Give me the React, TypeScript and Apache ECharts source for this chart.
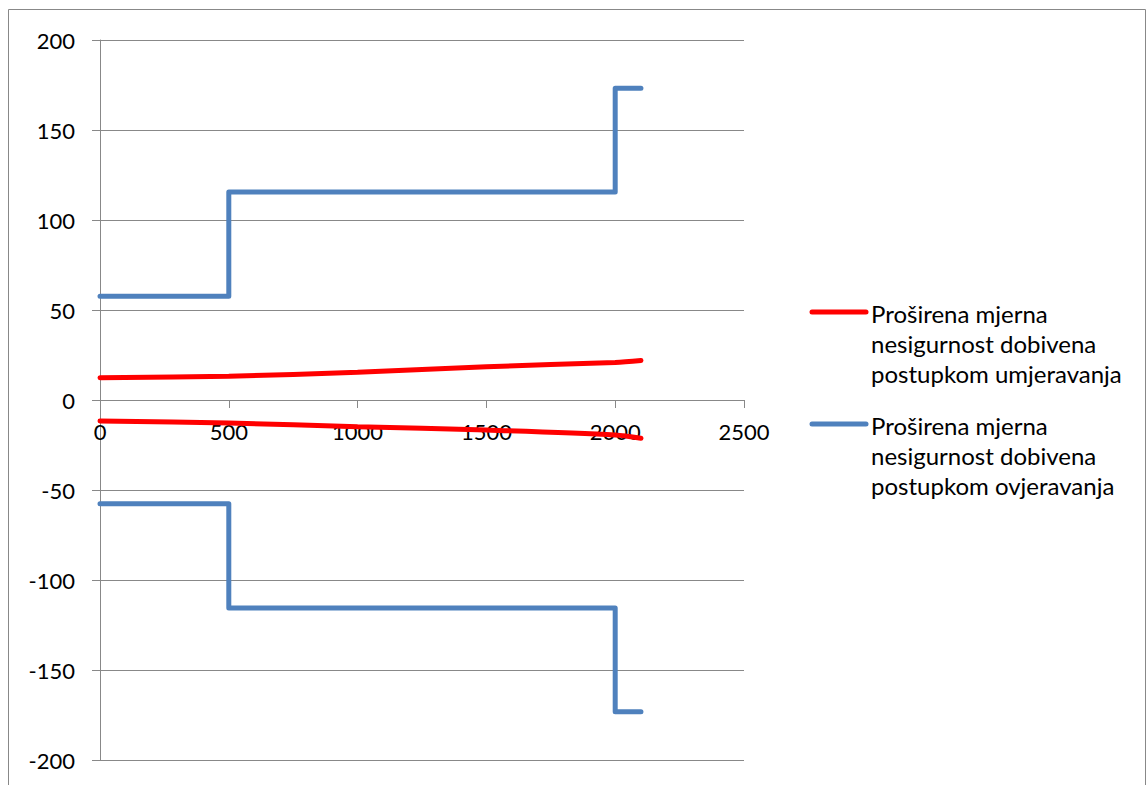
import React, { useEffect, useRef } from "react";
import * as echarts from "echarts";

const xTicks = [0, 500, 1000, 1500, 2000, 2500];
const yTicks = [-200, -150, -100, -50, 0, 50, 100, 150, 200];

const redX = [0, 500, 1000, 1500, 2000, 2100];
const redUpper = [12.4, 13.2, 15.4, 18.5, 20.9, 22.0];
const redLower = [-11.7, -12.8, -14.8, -16.7, -19.4, -21.3];

const blueX = [0, 500, 2000, 2100];
const blueUpper = [57.7, 115.5, 173.2, 173.2];
const blueLower = [-57.7, -115.5, -173.2, -173.2];

const seriesNames = [
  "Proširena mjerna\nnesigurnost dobivena\npostupkom umjeravanja",
  "Proširena mjerna\nnesigurnost dobivena\npostupkom ovjeravanja",
];
const colors = ["#FF0000", "#4F81BD"];

const FONT = "Lato";
const GRAY = "#888888";
const GRID_H = 720;

const zip = (xs: number[], ys: number[]) => xs.map((x, i) => [x, ys[i]]);

export default function App() {
  const ref = useRef<HTMLDivElement>(null);
  useEffect(() => {
    if (!ref.current) return;
    const chart = echarts.init(ref.current, null, { renderer: "svg" });
    const legendItem = (i: number, top: number) => ({
      type: "group",
      silent: true,
      children: [
        {
          type: "line",
          shape: { x1: 804, y1: top + 14, x2: 858, y2: top + 14 },
          style: { stroke: colors[i], lineWidth: 5, lineCap: "round" },
        },
        {
          type: "text",
          x: 863,
          y: top,
          style: {
            text: seriesNames[i],
            fontSize: 24,
            fontFamily: FONT,
            fill: "#000",
            lineHeight: 30,
            verticalAlign: "top",
            align: "left",
          },
        },
      ],
    });
    chart.setOption({
      animation: false,
      backgroundColor: "#fff",
      grid: {
        left: 92,
        top: 32,
        width: 644,
        height: GRID_H,
        containLabel: false,
        outerBoundsMode: "none",
      },
      xAxis: {
        type: "value",
        min: xTicks[0],
        max: xTicks[xTicks.length - 1],
        interval: 500,
        position: "bottom",
        offset: -GRID_H / 2,
        axisLine: { show: true, onZero: false, lineStyle: { color: GRAY, width: 1 } },
        axisTick: { show: true, length: 8, lineStyle: { color: GRAY } },
        splitLine: { show: false },
        axisLabel: {
          color: "#000",
          fontSize: 22,
          fontFamily: FONT,
          margin: 20,
          formatter: (v: number) => String(v),
        },
        z: 1,
      },
      yAxis: {
        type: "value",
        min: yTicks[0],
        max: yTicks[yTicks.length - 1],
        interval: 50,
        axisLine: { show: true, onZero: false, lineStyle: { color: GRAY, width: 1 } },
        axisTick: { show: true, length: 8, lineStyle: { color: GRAY } },
        splitLine: { show: true, lineStyle: { color: GRAY, width: 1 } },
        axisLabel: {
          color: "#000",
          fontSize: 22,
          fontFamily: FONT,
          margin: 25,
          formatter: (v: number) => String(v),
        },
      },
      series: [
        {
          name: seriesNames[0],
          type: "line",
          data: zip(redX, redUpper),
          smooth: 0.3,
          showSymbol: false,
          lineStyle: { color: colors[0], width: 5, cap: "round" },
          z: 3,
        },
        {
          name: seriesNames[0] + " ",
          type: "line",
          data: zip(redX, redLower),
          smooth: 0.3,
          showSymbol: false,
          lineStyle: { color: colors[0], width: 5, cap: "round" },
          z: 3,
        },
        {
          name: seriesNames[1],
          type: "line",
          data: zip(blueX, blueUpper),
          step: "end",
          showSymbol: false,
          lineStyle: { color: colors[1], width: 5, cap: "round", join: "round" },
          z: 2,
        },
        {
          name: seriesNames[1] + " ",
          type: "line",
          data: zip(blueX, blueLower),
          step: "end",
          showSymbol: false,
          lineStyle: { color: colors[1], width: 5, cap: "round", join: "round" },
          z: 2,
        },
      ],
      graphic: [
        {
          type: "rect",
          silent: true,
          shape: { x: 0.5, y: 1.5, width: 1137, height: 800 },
          style: { fill: "none", stroke: GRAY, lineWidth: 1 },
        },
        legendItem(0, 290),
        legendItem(1, 402),
      ],
    });
    return () => chart.dispose();
  }, []);
  return (
    <div
      ref={ref}
      style={{ position: "absolute", left: 8, top: 8, width: 1140, height: 777 }}
    />
  );
}
